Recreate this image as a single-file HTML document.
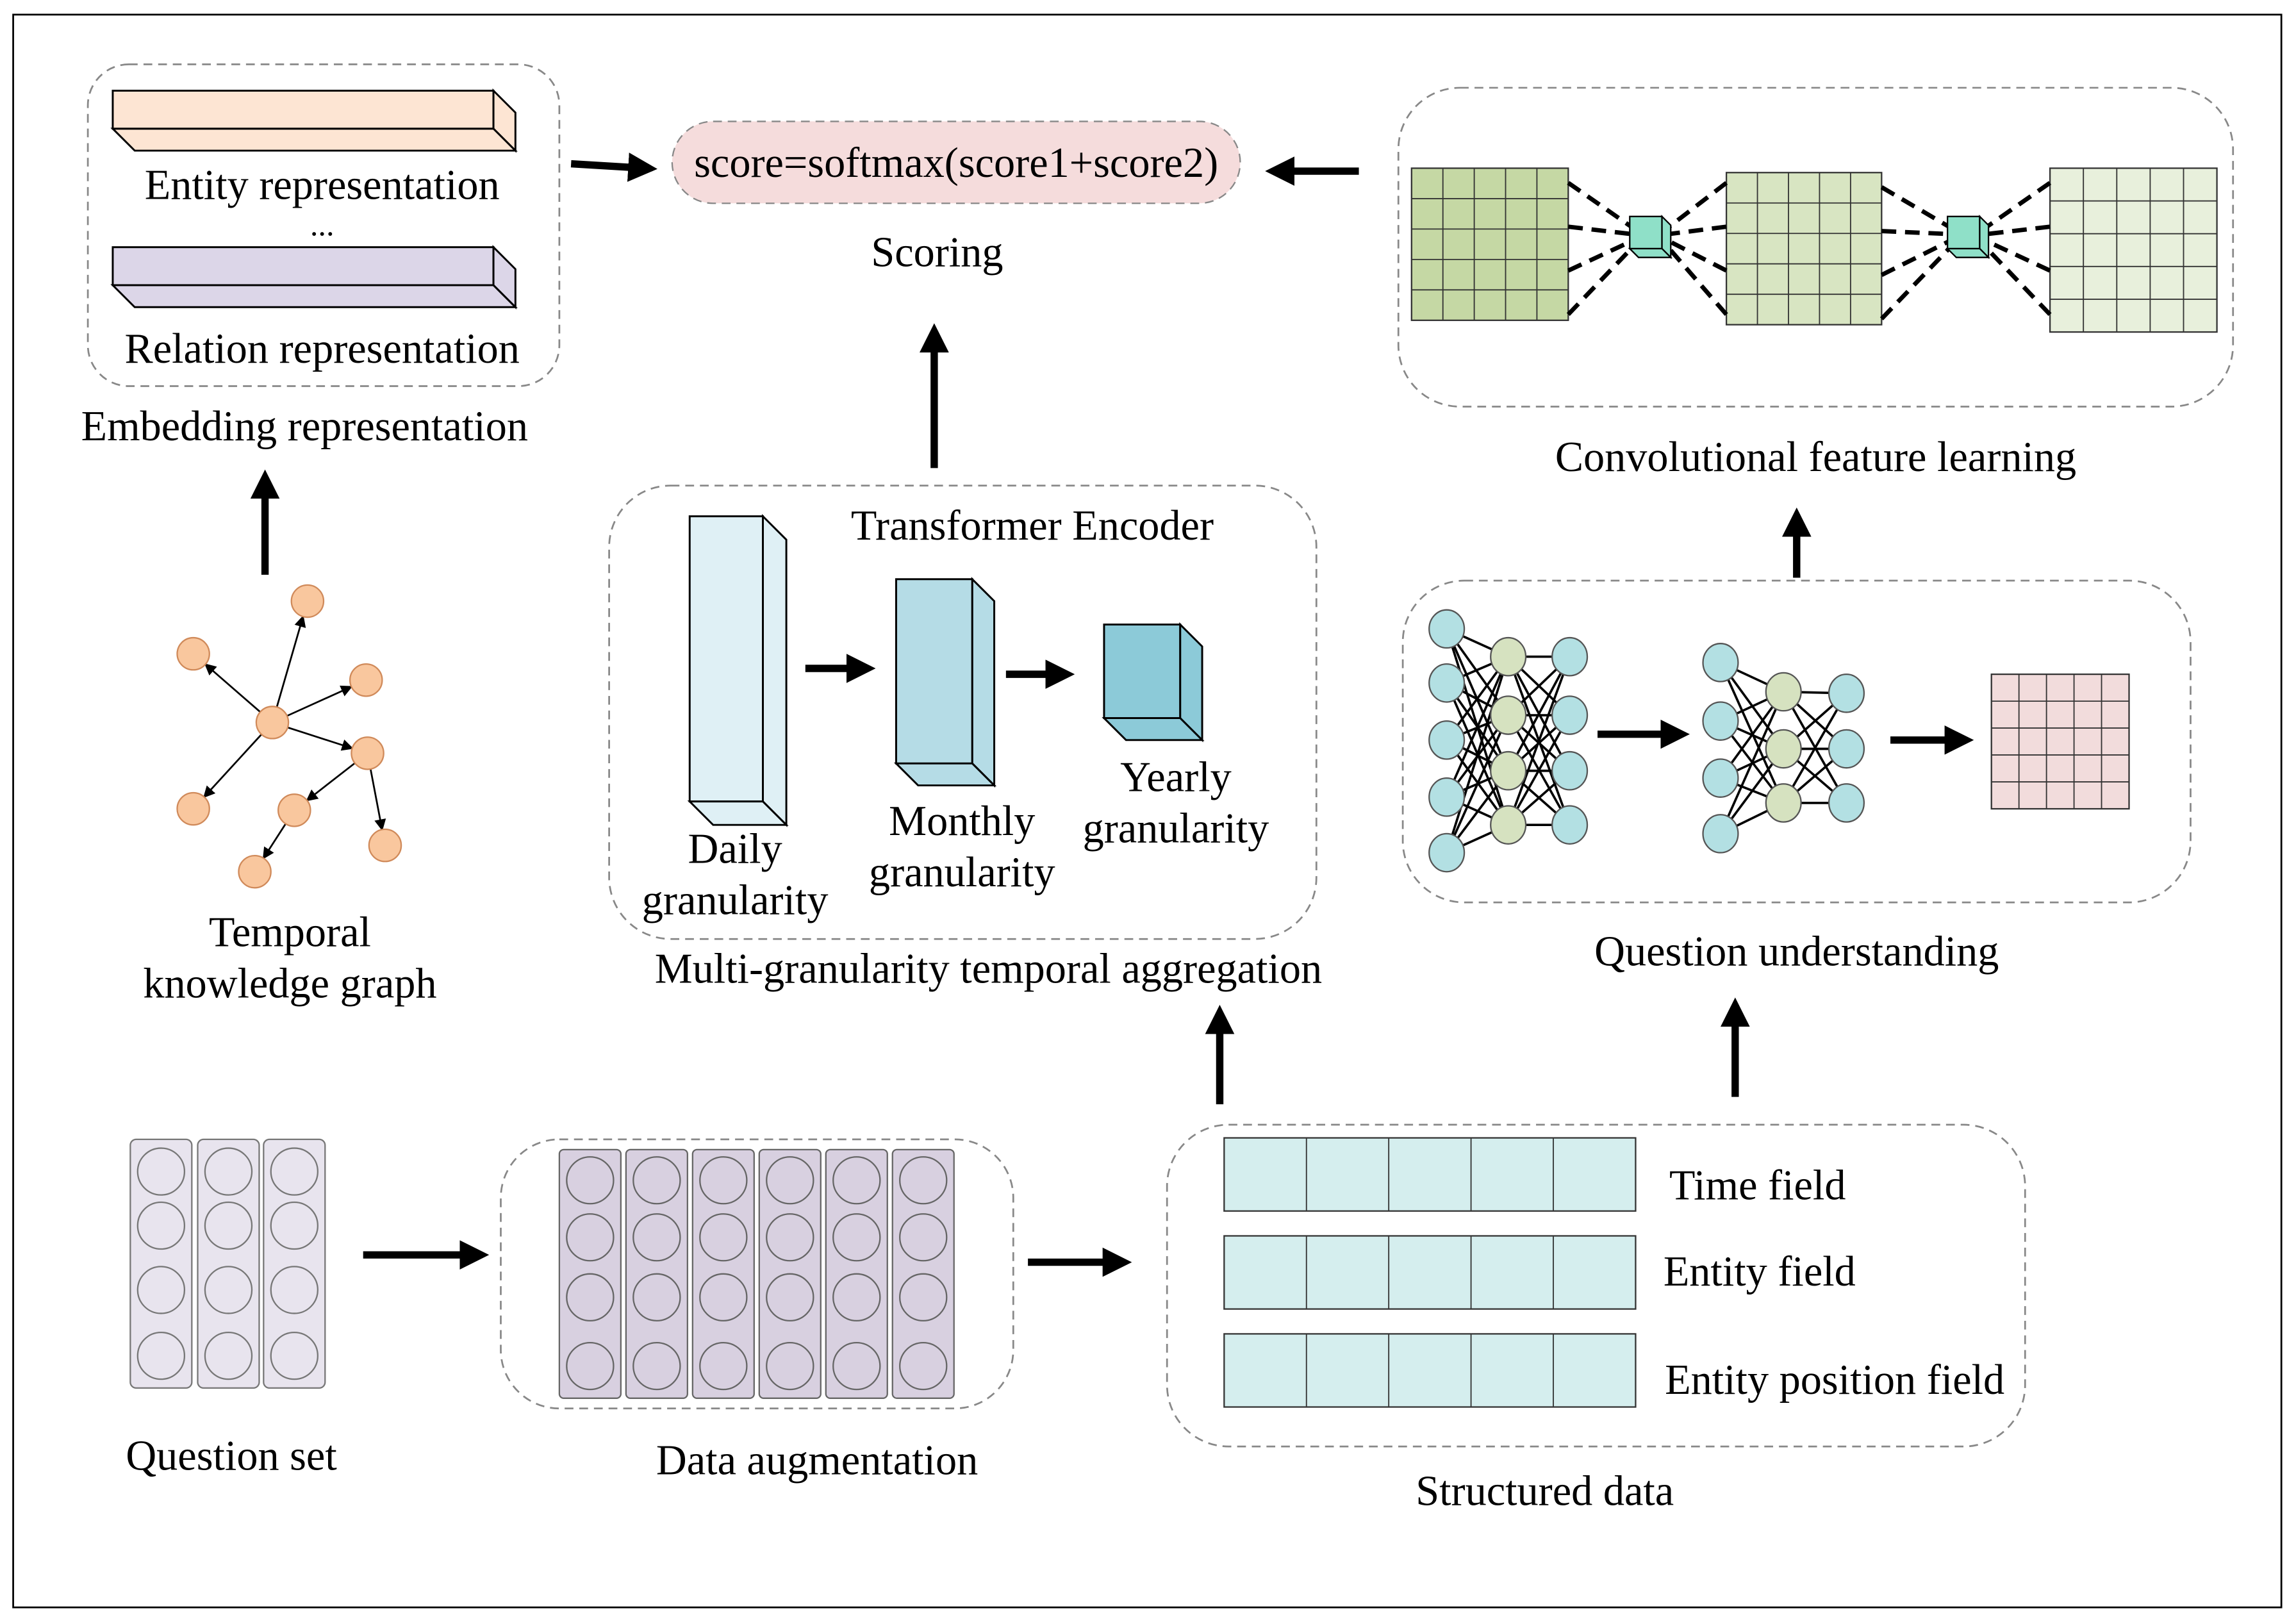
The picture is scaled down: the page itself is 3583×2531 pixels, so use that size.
<!DOCTYPE html>
<html><head><meta charset="utf-8">
<style>
html,body{margin:0;padding:0;background:#fff;}
svg{display:block;}
text{font-family:"Liberation Serif",serif;fill:#000;font-size:29px;}
</style></head>
<body>
<svg id="s" width="3583" height="2531" viewBox="0 0 1568 1109" preserveAspectRatio="none" xmlns="http://www.w3.org/2000/svg">
<defs>
<marker id="ah" markerWidth="4" markerHeight="4" refX="2.2" refY="2" orient="auto" markerUnits="strokeWidth">
<path d="M0,0 L4,2 L0,4 z" fill="#000"/></marker>
<marker id="sa" markerWidth="8" markerHeight="8" refX="7" refY="4" orient="auto" markerUnits="userSpaceOnUse">
<path d="M0,0 L8,4 L0,8 z" fill="#000"/></marker>
</defs>
<rect x="9" y="10" width="1549" height="1089" fill="#fff" stroke="#000" stroke-width="1.2"/>
<g fill="none" stroke="#888" stroke-width="1.2" stroke-dasharray="6,4">
<rect x="60" y="44" width="322" height="220" rx="28"/>
<rect x="955" y="60" width="570" height="218" rx="42"/>
<rect x="416" y="332" width="483" height="310" rx="42"/>
<rect x="958" y="397" width="538" height="220" rx="42"/>
<rect x="797" y="769" width="586" height="220" rx="42"/>
<rect x="342" y="779" width="350" height="184" rx="40"/>
</g>
<rect x="459" y="83" width="388" height="56" rx="28" fill="#f5dcdc" stroke="#888" stroke-dasharray="6,4"/>
<text x="653" y="121" text-anchor="middle">score=softmax(score1+score2)</text>
<text x="640" y="182" text-anchor="middle">Scoring</text>
<text x="220" y="136" text-anchor="middle">Entity representation</text>
<text x="220" y="161" font-size="22" text-anchor="middle" style="font-size:22px">...</text>
<text x="220" y="248" text-anchor="middle">Relation representation</text>
<text x="208" y="301" text-anchor="middle">Embedding representation</text>
<text x="1240" y="322" text-anchor="middle">Convolutional feature learning</text>
<text x="705" y="369" text-anchor="middle">Transformer Encoder</text>
<text x="502" y="590" text-anchor="middle">Daily</text>
<text x="502" y="625" text-anchor="middle">granularity</text>
<text x="657" y="571" text-anchor="middle">Monthly</text>
<text x="657" y="606" text-anchor="middle">granularity</text>
<text x="803" y="541" text-anchor="middle">Yearly</text>
<text x="803" y="576" text-anchor="middle">granularity</text>
<text x="675" y="672" text-anchor="middle">Multi-granularity temporal aggregation</text>
<text x="1227" y="660" text-anchor="middle">Question understanding</text>
<text x="198" y="647" text-anchor="middle">Temporal</text>
<text x="198" y="682" text-anchor="middle">knowledge graph</text>
<text x="158" y="1005" text-anchor="middle">Question set</text>
<text x="558" y="1008" text-anchor="middle">Data augmentation</text>
<text x="1055" y="1029" text-anchor="middle">Structured data</text>
<text x="1140" y="820">Time field</text>
<text x="1136" y="879">Entity field</text>
<text x="1137" y="953">Entity position field</text>
<g id="gen"></g>
</svg>
<script>
var NS="http://www.w3.org/2000/svg",G=document.getElementById("gen");
function el(t,a){var e=document.createElementNS(NS,t);for(var k in a)e.setAttribute(k,a[k]);G.appendChild(e);return e;}
function box3(x,y,w,h,d,f,sw){sw=sw||1.3;
 el("rect",{x:x,y:y,width:w,height:h,fill:f,stroke:"#000","stroke-width":sw});
 el("path",{d:"M"+(x+w)+","+y+" L"+(x+w+d)+","+(y+d)+" L"+(x+w+d)+","+(y+h+d)+" L"+(x+w)+","+(y+h)+" Z",fill:f,stroke:"#000","stroke-width":sw});
 el("path",{d:"M"+x+","+(y+h)+" L"+(x+w)+","+(y+h)+" L"+(x+w+d)+","+(y+h+d)+" L"+(x+d)+","+(y+h+d)+" Z",fill:f,stroke:"#000","stroke-width":sw});
}
box3(77,62,260,26,15,"#fde5d3");
box3(77,169,260,26,15,"#dcd6e8");
box3(471,353,50,195,16,"#dff0f5");
box3(612,396,52,126,15,"#b5dce6");
box3(754,427,52,64,15,"#8ccad8");
function grid(x,y,w,h,c,r,f){
 el("rect",{x:x,y:y,width:w,height:h,fill:f,stroke:"#333","stroke-width":1});
 for(var i=1;i<c;i++)el("line",{x1:x+w*i/c,y1:y,x2:x+w*i/c,y2:y+h,stroke:"#333","stroke-width":0.8});
 for(var j=1;j<r;j++)el("line",{x1:x,y1:y+h*j/r,x2:x+w,y2:y+h*j/r,stroke:"#333","stroke-width":0.8});
}
grid(964,115,107,104,5,5,"#c5d8a4");
grid(1179,118,106,104,5,5,"#d8e5c2");
grid(1400,115,114,112,5,5,"#e8f0dc");
grid(1360,461,94,92,5,5,"#f2dcdc");
function dl(a,b,c,d){el("line",{x1:a,y1:b,x2:c,y2:d,stroke:"#000","stroke-width":3,"stroke-dasharray":"10,6"});}
dl(1071,125,1114,155);dl(1071,155,1114,160);dl(1071,185,1114,165);dl(1071,215,1114,170);
dl(1179,125,1140,155);dl(1179,155,1140,160);dl(1179,185,1140,165);dl(1179,215,1140,170);
dl(1285,128,1331,155);dl(1285,158,1331,160);dl(1285,188,1331,165);dl(1285,218,1331,170);
dl(1400,125,1357,155);dl(1400,155,1357,160);dl(1400,185,1357,165);dl(1400,215,1357,170);
box3(1113,148,22,22,6,"#8fe0c8",1);box3(1330,148,22,22,6,"#8fe0c8",1);
[778,845,912].forEach(function(y){grid(836,y,281,50,5,1,"#d5eeee");});
[89,135,180].forEach(function(x){el("rect",{x:x,y:779,width:42,height:170,rx:4,fill:"#e8e4ee",stroke:"#777"});
 [801,838,882,927].forEach(function(y){el("circle",{cx:x+21,cy:y,r:16,fill:"#e8e4ee",stroke:"#777"});});});
for(var i=0;i<6;i++){var x=382+i*45.5;el("rect",{x:x,y:786,width:42,height:170,rx:3,fill:"#d8d0e0",stroke:"#666"});
 [807,846,887,934].forEach(function(y){el("circle",{cx:x+21,cy:y,r:16,fill:"#d8d0e0",stroke:"#666"});});}
function ar(a,b,c,d){el("line",{x1:a,y1:b,x2:c,y2:d,stroke:"#000","stroke-width":5,"marker-end":"url(#ah)"});}
ar(390,112,440,115);ar(928,117,873,117);ar(638,320,638,230);ar(181,393,181,330);
ar(833,755,833,696);ar(1185,750,1185,691);ar(1227,395,1227,356);ar(248,858,325,858);
ar(702,863,764,863);ar(550,457,589,457);ar(687,461,725,461);ar(1091,502,1145,502);ar(1291,506,1339,506);
function nn(L,M,R,lx,mx,rx){
 L.forEach(function(a){M.forEach(function(b){el("line",{x1:lx,y1:a,x2:mx,y2:b,stroke:"#000","stroke-width":1.6});});});
 M.forEach(function(a){R.forEach(function(b){el("line",{x1:mx,y1:a,x2:rx,y2:b,stroke:"#000","stroke-width":1.6});});});
 L.forEach(function(y){el("ellipse",{cx:lx,cy:y,rx:12,ry:13,fill:"#b3e0e3",stroke:"#555"});});
 M.forEach(function(y){el("ellipse",{cx:mx,cy:y,rx:12,ry:13,fill:"#d6e2c0",stroke:"#555"});});
 R.forEach(function(y){el("ellipse",{cx:rx,cy:y,rx:12,ry:13,fill:"#b3e0e3",stroke:"#555"});});
}
nn([430,467,506,545,583],[449,489,527,564],[449,489,527,564],988,1030,1072);
nn([453,493,532,570],[473,512,549],[474,512,549],1175,1218,1261);
var N={c:[186,494],a:[210,411],b:[132,447],d:[250,465],e:[251,515],f:[132,553],g:[201,554],h:[263,578],i:[174,596]};
function ge(p,q){var A=N[p],B=N[q],dx=B[0]-A[0],dy=B[1]-A[1],l=Math.sqrt(dx*dx+dy*dy),r=11;
 el("line",{x1:A[0]+dx/l*r,y1:A[1]+dy/l*r,x2:B[0]-dx/l*r,y2:B[1]-dy/l*r,stroke:"#000","stroke-width":1.2,"marker-end":"url(#sa)"});}
ge("c","a");ge("c","b");ge("c","d");ge("c","e");ge("c","f");ge("e","g");ge("e","h");ge("g","i");
for(var k in N)el("circle",{cx:N[k][0],cy:N[k][1],r:11,fill:"#f9c79e",stroke:"#d08a5a"});
</script>
</body></html>
